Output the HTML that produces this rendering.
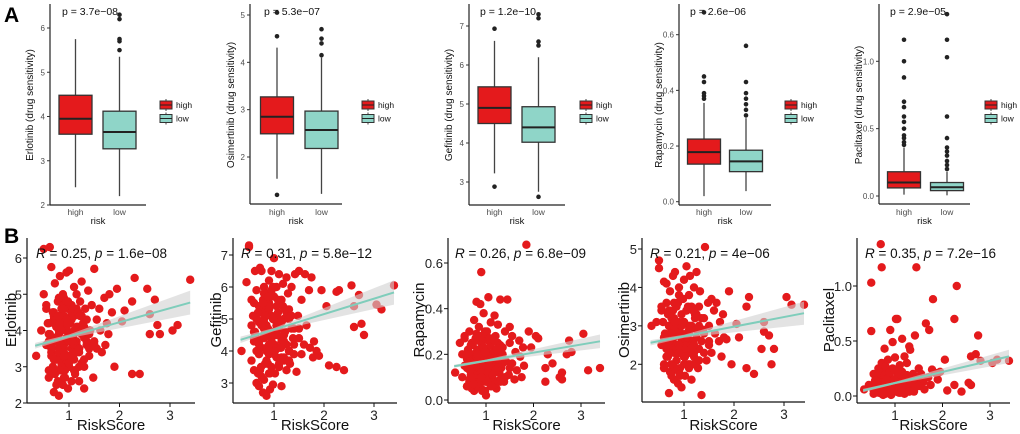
<!DOCTYPE html>
<html><head><meta charset="utf-8"><style>
html,body{margin:0;padding:0;background:#fff}
svg{display:block;font-family:"Liberation Sans",Arial,sans-serif}
</style></head><body>
<svg id="fig" width="1020" height="434" viewBox="0 0 1020 434">
<text x="4" y="22" font-size="21" font-weight="bold">A</text>
<text x="4" y="243" font-size="21" font-weight="bold">B</text>
</svg>
<script>
// ---------- Box plot data ----------
const boxDrugs = ["Erlotinib","Osimertinib","Gefitinib","Rapamycin","Paclitaxel"];
const boxPvals = ["p = 3.7e\u221208","p = 5.3e\u221207","p = 1.2e\u221210","p = 2.6e\u221206","p = 2.9e\u221205"];
const boxGroups = ["high","low"];
// [lowerWhisker, q1, median, q3, upperWhisker]
const boxHigh = [[2.4,3.6,3.95,4.48,5.75],[1.54,2.49,2.85,3.27,4.31],[3.22,4.5,4.9,5.44,6.62],[0.02,0.135,0.178,0.225,0.355],[0.01,0.06,0.1,0.18,0.36]];
const boxLow = [[2.2,3.27,3.65,4.12,5.35],[1.22,2.18,2.57,2.97,4.1],[2.75,4.02,4.4,4.93,6.2],[0.038,0.108,0.145,0.185,0.3],[0.005,0.04,0.065,0.1,0.18]];
const outHigh = [[],[4.55,1.2,5.05],[6.93,2.88],[0.37,0.38,0.39,0.43,0.45,0.68],[0.38,0.4,0.43,0.45,0.5,0.55,0.59,0.66,0.7,0.88,1.0,1.16]];
const outLow = [[5.5,5.7,5.75,6.2,6.3],[4.15,4.4,4.5,4.7],[6.5,6.6,7.2,7.3,2.62],[0.31,0.33,0.35,0.37,0.39,0.43,0.56],[0.2,0.23,0.26,0.3,0.33,0.36,0.43,0.59,1.03,1.16,1.35]];
const boxTicks = [[2,3,4,5,6],[2,3,4,5],[3,4,5,6,7],[0,0.2,0.4,0.6],[0,0.5,1.0]];
const boxTickLabels = [["2","3","4","5","6"],["2","3","4","5"],["3","4","5","6","7"],["0.0","0.2","0.4","0.6"],["0.0","0.5","1.0"]];

// ---------- Scatter data ----------
const scatDrugs = ["Erlotinib","Gefitinib","Rapamycin","Osimertinib","Paclitaxel"];
const scatStats = [["0.25","1.6e\u221208"],["0.31","5.8e\u221212"],["0.26","6.8e\u221209"],["0.21","4e\u221206"],["0.35","7.2e\u221216"]];
const riskScore = [0.35,0.45,0.5,0.5,0.55,0.55,0.6,0.6,0.62,0.65,
0.65,0.68,0.7,0.7,0.72,0.72,0.75,0.75,0.78,0.78,
0.8,0.8,0.8,0.82,0.85,0.85,0.85,0.88,0.88,0.9,
0.9,0.9,0.92,0.95,0.95,0.95,0.98,0.98,1.0,1.0,
1.0,1.02,1.05,1.05,1.05,1.08,1.1,1.1,1.1,1.12,
1.15,1.15,1.18,1.2,1.2,1.22,1.25,1.25,1.28,1.3,
1.3,1.32,1.35,1.38,1.4,1.42,1.45,1.48,1.5,1.5,
1.55,1.55,1.6,1.62,1.65,1.7,1.72,1.75,1.78,1.8,
1.9,1.95,2.05,2.1,2.25,2.25,2.3,2.4,2.55,2.6,2.6,2.7,2.75,2.8,3.05,3.15,3.4,
0.6,0.65,0.7,0.75,0.8,0.85,0.9,0.95,1.0,1.05,
0.7,0.75,0.8,0.85,0.9,0.95,1.0,1.05,1.1,1.15,
0.8,0.85,0.9,0.95,1.0,1.05,1.1,1.15,1.2,1.25,
0.65,0.75,0.85,0.95,1.05,1.15,1.25,1.35,0.9,1.85,
0.55,0.6,0.65,0.7,0.75,0.8,0.85,0.9,0.95,1.0,
1.05,1.1,1.15,1.2,1.25,1.3,1.35,1.4,0.62,0.68,
0.72,0.78,0.82,0.88,0.92,0.98,1.02,1.08,1.12,1.18,
0.6,0.7,0.8,0.9,1.0,1.1,1.2,1.3,1.4,1.5,
0.58,0.66,0.74,0.82,0.9,0.98,1.06,1.14,1.22,1.3];
const erlotinib = [3.3,4.0,5.0,6.25,3.6,4.6,2.7,4.2,6.3,3.4,
5.75,3.0,4.5,2.3,3.8,5.3,3.2,4.1,2.6,4.8,
3.5,2.2,3.9,5.5,4.4,3.1,3.7,5.0,2.5,4.3,
3.6,4.9,2.9,5.6,3.3,4.0,2.4,4.6,3.8,5.65,
3.0,4.2,3.5,2.6,4.7,3.9,5.2,3.2,4.4,2.8,
3.7,5.0,4.1,2.6,3.4,4.8,5.35,3.1,4.2,3.8,
2.4,4.6,3.6,5.1,3.3,4.0,4.7,2.7,3.7,5.7,
4.3,3.5,4.6,4.0,3.4,4.9,3.6,4.2,3.9,5.0,
3.0,5.15,4.25,4.55,4.8,2.8,5.45,2.8,5.15,4.45,3.9,4.85,4.15,3.9,4.0,4.15,5.4,
3.9,3.5,4.3,3.2,4.0,3.6,4.4,3.1,3.8,4.5,
4.2,3.7,3.3,4.6,3.5,4.1,3.0,4.3,3.9,3.6,
3.4,4.0,4.7,3.8,3.2,4.4,3.6,4.1,3.5,3.9,
3.6,4.1,3.0,4.3,3.8,3.4,4.0,3.7,2.9,4.5,
4.7,2.9,3.3,4.4,2.5,4.9,3.0,2.7,4.8,3.1,
4.5,2.9,4.6,3.0,4.4,3.2,4.3,3.5,3.9,4.5,
2.8,4.4,2.9,4.6,2.7,4.8,3.3,4.6,2.9,4.5,
3.7,3.2,4.1,3.4,3.7,4.0,3.5,4.1,3.9,3.6,
4.2,3.6,2.9,4.2,3.3,4.2,3.7,3.4,4.4,3.0];
const gefitinib = [4.0,6.15,7.3,7.25,4.8,3.7,5.5,4.3,6.5,3.0,
5.9,3.3,4.9,2.9,6.6,5.2,4.1,6.5,2.7,5.6,
4.5,3.1,6.0,5.3,4.0,2.6,5.8,3.6,4.7,6.2,
3.9,5.4,2.8,6.5,4.4,3.5,5.0,2.95,6.9,4.2,
5.7,3.3,4.8,6.0,3.8,5.2,4.1,6.4,3.5,5.5,
4.3,2.9,6.1,3.7,5.0,4.6,6.3,3.4,5.8,4.0,
5.3,3.6,6.0,4.4,3.9,6.4,3.35,5.1,4.7,6.5,
3.9,5.6,4.2,6.4,4.8,5.9,4.1,6.3,3.8,4.3,
3.85,5.9,5.4,3.55,5.85,3.5,5.9,3.4,6.05,4.75,5.4,5.75,4.85,4.5,5.45,5.3,6.05,
4.6,5.0,4.2,5.3,4.4,4.8,3.9,5.1,4.5,4.9,
4.3,5.2,4.7,4.0,5.5,4.5,4.1,4.8,5.0,4.4,
4.9,4.1,5.3,4.6,4.2,5.0,4.7,3.8,4.5,5.2,
4.4,4.8,5.1,4.3,4.6,4.9,4.2,4.7,5.4,4.0,
5.6,3.4,4.0,5.4,3.2,5.8,3.7,3.3,5.9,3.9,
5.4,3.6,5.6,3.8,5.3,4.0,5.1,4.2,4.6,5.2,
3.4,5.5,3.6,5.7,3.3,6.0,4.0,5.6,3.7,5.4,
4.4,3.9,5.0,4.2,4.5,4.9,4.3,5.0,4.7,4.4,
5.1,4.3,3.5,5.1,4.0,5.0,4.5,4.1,5.3,3.7];
const rapamycin = [0.12,0.25,0.2,0.1,0.15,0.28,0.06,0.18,0.22,0.08,
0.3,0.11,0.2,0.05,0.24,0.14,0.35,0.09,0.19,0.27,
0.13,0.43,0.06,0.22,0.17,0.32,0.1,0.42,0.15,0.25,
0.56,0.08,0.2,0.12,0.38,0.17,0.04,0.27,0.14,0.22,
0.02,0.3,0.11,0.19,0.45,0.13,0.24,0.07,0.34,0.16,
0.21,0.09,0.37,0.15,0.28,0.05,0.18,0.33,0.12,0.24,
0.44,0.14,0.2,0.08,0.3,0.17,0.44,0.11,0.25,0.32,
0.16,0.28,0.09,0.21,0.13,0.26,0.19,0.1,0.23,0.15,
0.3,0.23,0.28,0.27,0.14,0.08,0.2,0.16,0.1,0.12,0.09,0.2,0.26,0.21,0.29,0.13,0.14,
0.15,0.2,0.12,0.18,0.1,0.22,0.14,0.17,0.09,0.19,
0.13,0.16,0.21,0.11,0.18,0.14,0.2,0.12,0.17,0.15,
0.19,0.12,0.16,0.23,0.14,0.1,0.18,0.15,0.21,0.13,
0.17,0.11,0.2,0.15,0.12,0.18,0.14,0.16,0.2,0.68,
0.27,0.06,0.09,0.25,0.04,0.29,0.07,0.05,0.28,0.08,
0.26,0.06,0.27,0.07,0.25,0.09,0.23,0.1,0.16,0.24,
0.05,0.26,0.06,0.28,0.04,0.3,0.08,0.27,0.06,0.26,
0.14,0.1,0.19,0.12,0.15,0.18,0.13,0.19,0.17,0.14,
0.2,0.13,0.07,0.2,0.1,0.21,0.15,0.11,0.22,0.08];
const osimertinib = [3.0,3.1,4.7,4.5,2.5,3.4,2.0,4.15,2.8,3.6,
4.1,2.2,3.0,1.25,2.6,3.9,1.8,2.9,4.3,2.4,
3.2,1.6,2.7,4.4,2.1,3.5,2.5,1.5,3.0,3.8,
2.3,4.0,1.9,2.8,3.3,1.4,3.7,2.6,4.2,2.2,
3.1,1.7,4.55,2.5,3.4,2.0,2.8,3.8,2.3,4.3,
3.0,1.6,2.6,4.0,2.2,3.3,4.4,2.7,1.9,3.5,
2.4,3.9,1.2,2.9,3.2,5.05,2.1,3.6,3.0,2.5,
3.7,2.3,3.4,2.8,3.6,2.6,3.1,2.2,3.3,2.7,
3.9,2.0,3.05,2.7,3.5,1.9,3.75,1.75,2.4,3.1,2.85,2.75,2.0,2.4,3.75,3.55,3.55,
2.7,2.4,3.0,2.5,2.9,2.3,2.8,2.6,3.1,2.5,
2.6,3.2,2.3,2.9,2.5,3.0,2.2,2.7,2.8,2.4,
2.9,2.5,3.1,2.7,2.4,2.8,3.0,2.6,2.3,2.9,
2.6,2.8,2.4,3.0,2.7,2.5,2.9,2.6,2.5,2.65,
3.5,1.9,2.2,3.4,1.7,3.6,2.1,1.8,3.7,2.0,
3.4,1.9,3.5,2.0,3.3,2.1,3.2,2.3,2.7,3.3,
1.8,3.4,1.9,3.6,1.7,3.7,2.2,3.5,2.0,3.4,
2.6,2.3,3.0,2.4,2.7,2.9,2.5,3.0,2.8,2.6,
3.1,2.5,2.0,3.1,2.3,3.1,2.7,2.4,3.2,2.1];
const paclitaxel = [0.06,0.1,1.03,0.59,0.2,0.05,0.15,0.12,0.08,0.25,
0.03,0.18,1.38,0.07,0.3,1.17,0.1,0.22,0.04,0.43,
0.12,0.02,0.27,0.08,0.33,0.05,0.16,0.11,0.2,0.06,
0.6,0.13,0.03,0.49,0.09,0.24,0.04,0.15,0.35,0.07,
0.1,0.7,0.05,0.18,0.7,0.03,0.28,0.12,0.06,0.22,
0.52,0.08,0.14,0.36,0.04,0.19,0.1,0.3,0.06,0.45,
0.13,0.42,0.07,0.2,0.04,0.55,1.17,0.11,0.25,0.16,
0.09,0.2,0.13,0.06,0.66,0.17,0.6,0.1,0.24,0.88,
0.15,0.22,0.33,0.05,0.7,0.1,1.0,0.04,0.12,0.1,0.36,0.38,0.55,0.32,0.3,0.33,0.32,
0.05,0.09,0.12,0.07,0.14,0.1,0.06,0.11,0.08,0.13,
0.1,0.06,0.13,0.08,0.11,0.05,0.15,0.09,0.12,0.07,
0.08,0.12,0.06,0.14,0.09,0.16,0.07,0.11,0.13,0.1,
0.07,0.1,0.12,0.08,0.15,0.11,0.09,0.13,0.06,0.21,
0.02,0.18,0.04,0.2,0.01,0.22,0.03,0.02,0.25,0.04,
0.2,0.03,0.22,0.02,0.19,0.04,0.17,0.06,0.1,0.21,
0.02,0.19,0.03,0.21,0.01,0.24,0.05,0.2,0.03,0.18,
0.09,0.06,0.13,0.07,0.1,0.12,0.08,0.14,0.11,0.09,
0.14,0.08,0.03,0.15,0.06,0.15,0.1,0.07,0.16,0.04];
const scatY = [erlotinib,gefitinib,rapamycin,osimertinib,paclitaxel];
const fitX = [0.33,1.0,3.4];
const fitY = [[3.58,3.84,4.77],[4.35,4.67,5.83],[0.148,0.172,0.257],[2.56,2.73,3.33],[0.05,0.118,0.36]];
const fitCI = [[0.08,0.05,0.33],[0.1,0.05,0.38],[0.007,0.005,0.03],[0.07,0.04,0.3],[0.015,0.01,0.06]];
const scatYTicks = [[2,3,4,5,6],[3,4,5,6,7],[0,0.2,0.4,0.6],[2,3,4,5],[0,0.5,1.0]];
const scatYTickLabels = [["2","3","4","5","6"],["3","4","5","6","7"],["0.0","0.2","0.4","0.6"],["2","3","4","5"],["0.0","0.5","1.0"]];
const scatXTicks = [1,2,3];
const scatXTickLabels = ["1","2","3"];

// ---------- layout ----------
const NS="http://www.w3.org/2000/svg";
const svg=document.getElementById('fig');
function mk(tag,attrs,parent){const e=document.createElementNS(NS,tag);for(const k in attrs)e.setAttribute(k,attrs[k]);(parent||svg).appendChild(e);return e;}
function lin(v0,p0,v1,p1){return v=>p0+(v-v0)*(p1-p0)/(v1-v0);}

const boxLayout=[
 {ax:50,bot:205,top:4,right:146,ym:lin(2,205,6,28),cx:[75.5,119.5],leg:160,tx:33,px:90},
 {ax:250,bot:204,top:4,right:342,ym:lin(2,157,5,15),cx:[277,321.5],leg:362,tx:234,px:292},
 {ax:469,bot:205,top:4,right:565,ym:lin(3,182,7,26),cx:[494.5,538.5],leg:580,tx:452,px:508},
 {ax:679,bot:205,top:4,right:771,ym:lin(0,201.7,0.6,34.7),cx:[704,746],leg:785,tx:662,px:718},
 {ax:879,bot:204,top:4,right:970,ym:lin(0,196,1.0,61.3),cx:[904,947],leg:985,tx:862,px:918}
];
const fills=["#e41a1c","#8fd5c8"];
boxDrugs.forEach((drug,i)=>{
  const L=boxLayout[i];
  const g=mk('g',{});
  
  
  const ya=mk('line',{x1:L.ax,y1:L.top,x2:L.ax,y2:L.bot,stroke:'#222','stroke-width':1.2},g);
  
  
  const xa=mk('line',{x1:L.ax,y1:L.bot,x2:L.right,y2:L.bot,stroke:'#222','stroke-width':1.2},g);
  
  
  boxTicks[i].forEach((t,k)=>{
    const y=L.ym(t);
    mk('line',{x1:L.ax-3,y1:y,x2:L.ax,y2:y,stroke:'#333','stroke-width':1},g);
    const tl=mk('text',{x:L.ax-5,y:y+3,'font-size':8,fill:'#4d4d4d','text-anchor':'end'},g);
    tl.textContent=boxTickLabels[i][k];
    
    
  });
  const yt=mk('text',{x:L.tx,y:105,'font-size':10,fill:'#111','text-anchor':'middle',transform:`rotate(-90 ${L.tx} 105)`},g);
  yt.textContent=drug+" (drug sensitivity)";
  
  
  const pt=mk('text',{x:L.px,y:15,'font-size':10.5,fill:'#111','text-anchor':'middle'},g);
  pt.textContent=boxPvals[i];
  
  
  [boxHigh[i],boxLow[i]].forEach((b,j)=>{
    const cx=L.cx[j],hw=16.5;
    const wk=mk('line',{x1:cx,y1:L.ym(b[0]),x2:cx,y2:L.ym(b[4]),stroke:'#444','stroke-width':1.3},g);
    
    
    const r=mk('rect',{x:cx-hw,y:L.ym(b[3]),width:2*hw,height:L.ym(b[1])-L.ym(b[3]),fill:fills[j],stroke:'#333','stroke-width':1.3},g);
    
    
    const md=mk('line',{x1:cx-hw,y1:L.ym(b[2]),x2:cx+hw,y2:L.ym(b[2]),stroke:'#222','stroke-width':2},g);
    
    
    const xl=mk('text',{x:cx,y:215,'font-size':8.5,fill:'#4d4d4d','text-anchor':'middle'},g);
    xl.textContent=boxGroups[j];
    
    
  });
  [outHigh[i],outLow[i]].forEach((arr,j)=>{
    arr.forEach(v=>{
      const c=mk('circle',{cx:L.cx[j],cy:L.ym(v),r:2.3,fill:'#222'},g);
      
      
    });
  });
  const xt=mk('text',{x:(L.ax+L.right)/2,y:224,'font-size':9.5,fill:'#111','text-anchor':'middle'},g);
  xt.textContent="risk";
  
  
  boxGroups.forEach((gr,j)=>{
    const ly=105+j*13.5;
    const lg=mk('g',{},g);
    
    
    mk('line',{x1:L.leg+6,y1:ly-6,x2:L.leg+6,y2:ly+6,stroke:'#444','stroke-width':1},lg);
    mk('rect',{x:L.leg,y:ly-4,width:12,height:8,fill:fills[j],stroke:'#333','stroke-width':1},lg);
    mk('line',{x1:L.leg,y1:ly,x2:L.leg+12,y2:ly,stroke:'#222','stroke-width':1},lg);
    const t=mk('text',{x:L.leg+16,y:ly+3,'font-size':8.5,fill:'#111'},lg);
    t.textContent=gr;
  });
});

const scatLayout=[
 {ax:27,bot:403,top:238,right:195,xm:lin(1,69,3,170),ym:lin(2,403,6,258),tx:16,rx:36},
 {ax:233,bot:403,top:238,right:397,xm:lin(1,274,3,374),ym:lin(3,383,7,255),tx:221,rx:241},
 {ax:448,bot:403,top:238,right:605,xm:lin(1,486,3,581),ym:lin(0,400,0.6,263),tx:424,rx:455},
 {ax:642,bot:402,top:238,right:805,xm:lin(1,684,3,784),ym:lin(2,364.3,5,249),tx:629,rx:650},
 {ax:857,bot:403,top:238,right:1010,xm:lin(1,895,3,990),ym:lin(0,396,1.0,286),tx:834,rx:865}
];
scatDrugs.forEach((drug,i)=>{
  const L=scatLayout[i];
  const g=mk('g',{});
  
  
  const ys=scatY[i];
  const n=Math.min(riskScore.length,ys.length);
  for(let k=0;k<n;k++){
    const c=mk('circle',{cx:L.xm(riskScore[k]),cy:L.ym(ys[k]),r:4.2,fill:'#e41a1c'},g);
    
    
  }
  const up=fitX.map((x,k)=>L.xm(x)+','+L.ym(fitY[i][k]+fitCI[i][k]));
  const lo=fitX.map((x,k)=>L.xm(x)+','+L.ym(fitY[i][k]-fitCI[i][k])).reverse();
  const band=mk('polygon',{points:up.concat(lo).join(' '),fill:'#d0d0d0','fill-opacity':0.6},g);
  
  
  const fl=mk('polyline',{points:fitX.map((x,k)=>L.xm(x)+','+L.ym(fitY[i][k])).join(' '),fill:'none',stroke:'#7fcdbb','stroke-width':2},g);
  
  
  const ya=mk('line',{x1:L.ax,y1:L.top,x2:L.ax,y2:L.bot,stroke:'#111','stroke-width':1.2},g);
  
  
  const xa=mk('line',{x1:L.ax,y1:L.bot,x2:L.right,y2:L.bot,stroke:'#111','stroke-width':1.2},g);
  
  
  scatYTicks[i].forEach((t,k)=>{
    const y=L.ym(t);
    mk('line',{x1:L.ax-4,y1:y,x2:L.ax,y2:y,stroke:'#111','stroke-width':1},g);
    const tl=mk('text',{x:L.ax-5,y:y+5,'font-size':13,fill:'#222','text-anchor':'end'},g);
    tl.textContent=scatYTickLabels[i][k];
    
    
  });
  scatXTicks.forEach((t,k)=>{
    const x=L.xm(t);
    mk('line',{x1:x,y1:L.bot,x2:x,y2:L.bot+4,stroke:'#111','stroke-width':1},g);
    const tl=mk('text',{x:x,y:L.bot+17,'font-size':13.5,fill:'#222','text-anchor':'middle'},g);
    tl.textContent=scatXTickLabels[k];
    
    
  });
  const xt=mk('text',{x:(L.ax+L.right)/2,y:430,'font-size':15,fill:'#111','text-anchor':'middle'},g);
  xt.textContent="RiskScore";
  
  
  const yt=mk('text',{x:L.tx,y:320,'font-size':15,fill:'#111','text-anchor':'middle',transform:`rotate(-90 ${L.tx} 320)`},g);
  yt.textContent=drug;
  
  
  const st=mk('text',{x:L.rx,y:258,'font-size':13.5,fill:'#111'},g);
  st.innerHTML=`<tspan font-style="italic">R</tspan> = ${scatStats[i][0]}, <tspan font-style="italic">p</tspan> = ${scatStats[i][1]}`;
  
  
});
</script>
</body></html>
